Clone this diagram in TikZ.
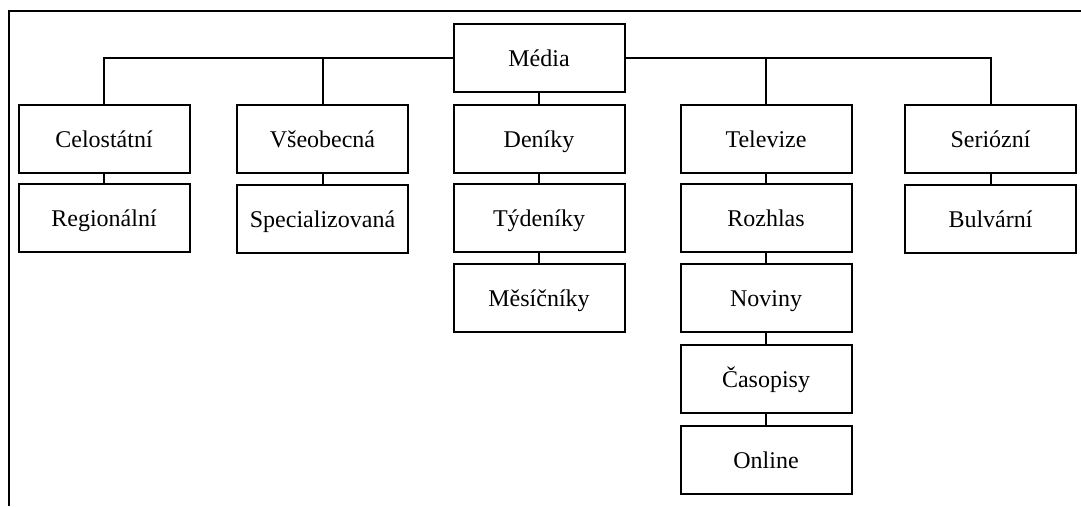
\documentclass[tikz,border=0pt]{standalone}
\usepackage{fontspec}
\setmainfont{Liberation Serif}
\begin{document}
\begin{tikzpicture}[x=1pt,y=-1pt,
  box/.style={draw,line width=2pt,rectangle,minimum width=171pt,minimum height=68pt,
    inner sep=0pt,text height=18pt,text depth=2pt,
    font=\fontsize{24}{28}\selectfont,text=black},
  link/.style={line width=2pt}]
  \useasboundingbox (0,0) rectangle (1081,506);
  % open frame: left and top edges
  \coordinate (fbl) at (9,506);
  \coordinate (ftl) at (9,11);
  \coordinate (ftr) at (1081,11);
  \draw[link] (fbl) -- (ftl) -- (ftr);

  % root
  \node[box] (media) at (539,58) {Média};

  % column 1
  \node[box] (celo) at (104,139) {Celostátní};
  \node[box] (regio) at (104,218) {Regionální};
  % column 2
  \node[box] (vseob) at (322.5,139) {Všeobecná};
  \node[box] (spec) at (322.5,219) {Specializovaná};
  % column 3
  \node[box] (deniky) at (539,139) {Deníky};
  \node[box] (tyden) at (539,218) {Týdeníky};
  \node[box] (mesic) at (539,298) {Měsíčníky};
  % column 4
  \node[box] (tv) at (766,139) {Televize};
  \node[box] (rozhlas) at (766,218) {Rozhlas};
  \node[box] (noviny) at (766,298) {Noviny};
  \node[box] (casop) at (766,379) {Časopisy};
  \node[box] (online) at (766,460) {Online};
  % column 5
  \node[box] (serio) at (990.5,139) {Seriózní};
  \node[box] (bulv) at (990.5,219) {Bulvární};

  % branches from the root
  \draw[link] (media.west) -| (celo.north);
  \draw[link] (media.west) -| (vseob.north);
  \draw[link] (media.east) -| (tv.north);
  \draw[link] (media.east) -| (serio.north);
  \draw[link] (media.south) -- (deniky.north);

  % chains within columns
  \draw[link] (celo.south) -- (regio.north);
  \draw[link] (vseob.south) -- (spec.north);
  \draw[link] (deniky.south) -- (tyden.north);
  \draw[link] (tyden.south) -- (mesic.north);
  \draw[link] (tv.south) -- (rozhlas.north);
  \draw[link] (rozhlas.south) -- (noviny.north);
  \draw[link] (noviny.south) -- (casop.north);
  \draw[link] (casop.south) -- (online.north);
  \draw[link] (serio.south) -- (bulv.north);
\end{tikzpicture}
\end{document}
